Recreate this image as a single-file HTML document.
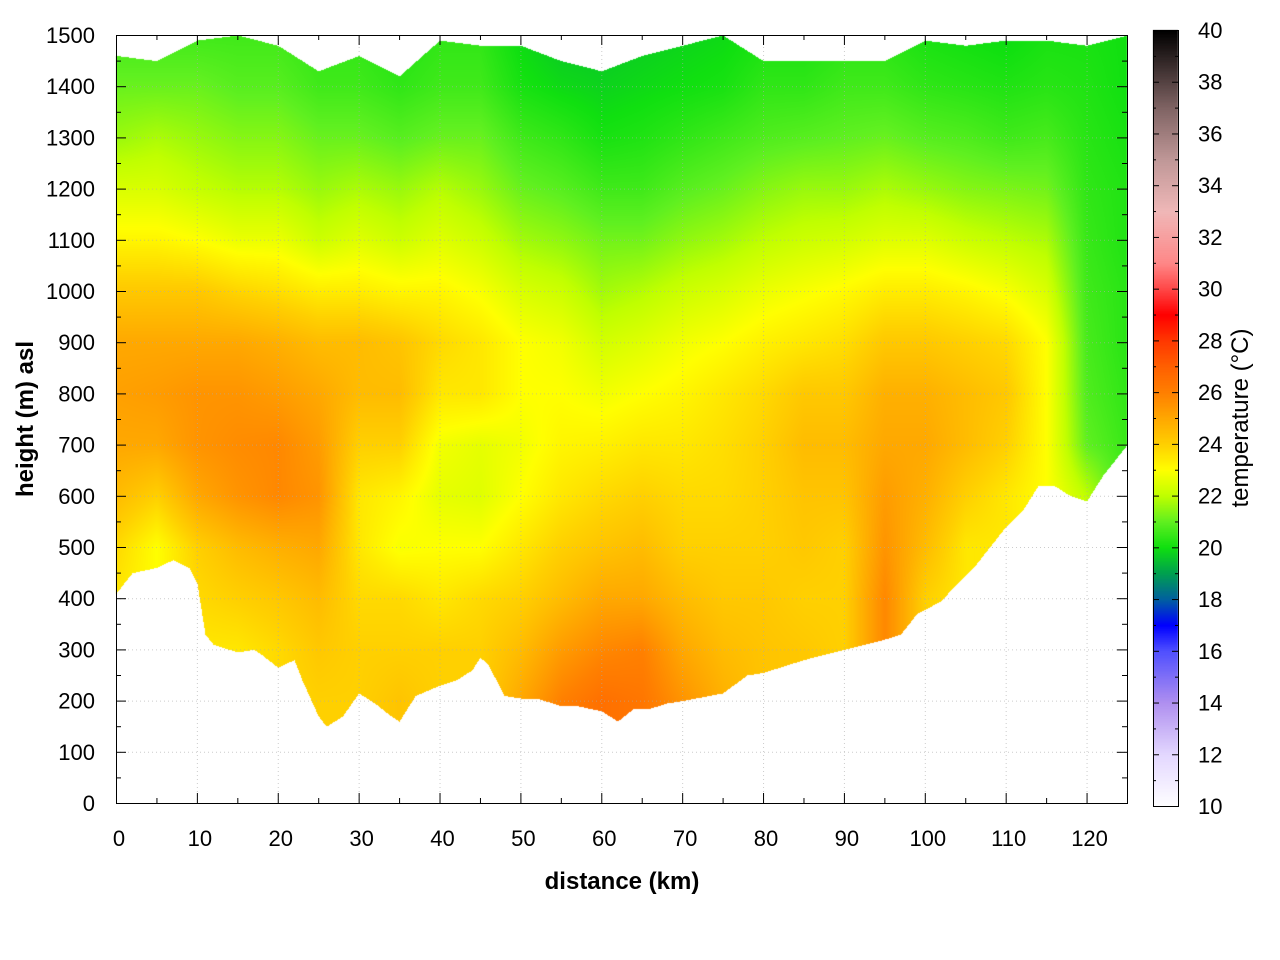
<!DOCTYPE html>
<html><head><meta charset="utf-8">
<style>
html,body{margin:0;padding:0;background:#fff;}
#wrap{position:relative;width:1280px;height:960px;font-family:"Liberation Sans",sans-serif;}
canvas,svg{position:absolute;left:0;top:0;}
</style></head>
<body>
<div id="wrap">
<canvas id="heat" width="1280" height="960"></canvas>
<svg id="ov" width="1280" height="960"></svg>
</div>
<script>
// ---- data ----
const distances = [0,5,10,15,20,25,30,35,40,45,50,55,60,65,70,75,80,85,90,95,100,105,110,115,120,125];
const heights = [0,100,200,300,400,500,600,700,800,900,1000,1100,1200,1300,1400,1500];
// temperature per distance column, at each height in `heights`
const temps = [
 [23.5,23.5,23.5,23.5,23.5,23.8,24.5,25,25.2,25,24.2,23.2,22.4,21.6,21.1,20.6],
 [23,23,23,23,23,23,24,25,25.3,25,24.2,23.2,22.4,21.8,21.1,20.6],
 [23.5,23.5,23.5,23.5,23.8,24,25,25.5,25.5,25,24.2,23,22.1,21.6,21.1,20.6],
 [23.5,23.5,23.5,23.5,24,24.5,25.5,25.7,25.5,25,23.9,22.7,21.9,21.4,20.9,20.6],
 [23.8,23.8,23.8,23.8,24.2,24.8,25.8,25.8,25.3,24.8,23.7,22.7,21.9,21.4,20.9,20.6],
 [24,24,24,24.2,24.5,25,25.5,25.3,25,24.5,23.4,22.2,21.6,21.1,20.6,20.4],
 [24,24,24,24,23.8,23.5,23.5,24,24.5,24.5,23.4,22.5,21.8,21.1,20.6,20.4],
 [24.3,24.3,24.3,24,23.8,22.9,23.2,24,24.5,24.3,23.2,22.2,21.6,20.9,20.4,20.2],
 [24,24,24,24,23.5,23,22.6,22.8,23.5,23.8,23.2,22.5,21.9,21.1,20.6,20.4],
 [24,24,24,24,23.8,23,22.5,22.6,23.5,23.5,22.9,22.2,21.6,21.1,20.6,20.4],
 [25,25,25,24.5,24,23.5,23,22.8,23,23,22.4,21.7,21.1,20.6,20.1,19.9],
 [26,26,26,25.3,24.5,24,23.5,23.2,23,22.8,22.2,21.5,20.9,20.4,19.9,19.6],
 [26.5,26.5,26.5,25.8,25,24.3,23.8,23.3,22.8,22.3,21.7,21.2,20.6,20.1,19.8,19.6],
 [26.3,26.3,26.3,26,25,24.5,24,23.5,23,22.5,21.9,21.2,20.6,20.2,19.9,19.7],
 [25.5,25.5,25.5,25,24.5,24,23.8,23.5,23.2,22.8,22.2,21.5,20.9,20.4,20,19.8],
 [24.8,24.8,24.8,24.5,24.2,24,23.8,23.7,23.5,23,22.4,21.7,21.1,20.6,20.1,19.9],
 [24.3,24.3,24.3,24.3,24.2,24,24,24,23.8,23.3,22.7,22,21.4,20.8,20.4,20.1],
 [24.2,24.2,24.2,24.2,24,24.2,24.3,24.5,24.2,23.5,22.9,22.2,21.6,20.9,20.4,20.1],
 [24,24,24,24,24,24,24.3,24.5,24.2,23.7,23.1,22.3,21.6,21,20.6,20.3],
 [25.8,25.8,25.8,25.8,25.8,25.5,25.3,25,24.8,24.2,23.4,22.5,21.8,21.1,20.6,20.3],
 [24,24,24,24,24,24.5,24.8,25,24.8,24.2,23.4,22.5,21.6,20.9,20.4,20.1],
 [23.5,23.5,23.5,23.5,23.5,23.5,24,24.5,24.5,24,23.2,22.2,21.4,20.8,20.3,20],
 [23.5,23.5,23.5,23.5,23.5,23.5,23.5,24,24.2,23.8,22.9,22,21.3,20.6,20.2,19.9],
 [23,23,23,23,23,23,23,23,23,23,22.4,21.8,21.2,20.7,20.3,20.1],
 [22,22,22,22,22,22,22,21,20.8,20.7,20.6,20.5,20.4,20.3,20.2,20.1],
 [20.5,20.5,20.5,20.5,20.5,20.5,20.5,20.5,20.4,20.3,20.3,20.2,20.2,20.1,20,20]
];
const topHeights = [1460,1450,1490,1500,1480,1430,1460,1420,1490,1480,1480,1450,1430,1460,1480,1500,1450,1450,1450,1450,1490,1480,1490,1490,1480,1500];
const terrainKm = [0,2,5,7,9,10,11,12,15,17,18,20,22,23,25,26,28,30,32,34,35,37,40,42,44,45,46,48,50,52,55,57,60,62,64,66,68,70,75,78,80,85,90,95,97,99,102,104,106,108,110,112,114,116,118,120,122,125];
const terrainH = [410,450,460,475,460,430,330,310,295,300,290,265,280,240,170,150,170,215,195,170,160,210,230,240,260,285,270,210,205,205,190,190,180,160,185,185,195,200,215,250,255,280,300,320,330,370,395,430,460,500,540,570,620,620,600,590,640,700];
const xTicks = [0,10,20,30,40,50,60,70,80,90,100,110,120];
const yTicks = [0,100,200,300,400,500,600,700,800,900,1000,1100,1200,1300,1400,1500];
const cbTicks = [10,12,14,16,18,20,22,24,26,28,30,32,34,36,38,40];
const cmapT = [10,12,14,16,17,18,19,20,21,22,23,24,25,26,27,28,29,30,31,33,35,37,40];
const cmapC = ["#ffffff","#e4d8ff","#b090f0","#5050ff","#0000ff","#0060a0","#00a050","#10e010","#60f020","#c0ff00","#ffff00","#ffd000","#ffa800","#ff8000","#ff6000","#ff3800","#ff0000","#ff4848","#ff8888","#f0b8b8","#c09898","#806464","#000000"];

// ---- axes ----
const PX0=116,PX1=1127,PY0=803,PY1=35,XMAX=125,YMAX=1500;
const sx=v=>PX0+(v/XMAX)*(PX1-PX0);
const sy=v=>PY0-(v/YMAX)*(PY0-PY1);
const CBX=1153,CBW=25,CBY0=806,CBY1=30;
const cy=t=>CBY0-(t-10)/30*(CBY0-CBY1);

function hex(c){return [parseInt(c.substr(1,2),16),parseInt(c.substr(3,2),16),parseInt(c.substr(5,2),16)];}
const cmapRGB=cmapC.map(hex);
function color(t){
  if(t<=cmapT[0])return cmapRGB[0];
  for(let i=1;i<cmapT.length;i++){if(t<=cmapT[i]){const f=(t-cmapT[i-1])/(cmapT[i]-cmapT[i-1]);const a=cmapRGB[i-1],b=cmapRGB[i];return [a[0]+(b[0]-a[0])*f,a[1]+(b[1]-a[1])*f,a[2]+(b[2]-a[2])*f];}}
  return cmapRGB[cmapRGB.length-1];
}
function interp1(xs,ys,x){
  if(x<=xs[0])return ys[0];
  for(let i=1;i<xs.length;i++)if(x<=xs[i]){const f=(x-xs[i-1])/(xs[i]-xs[i-1]);return ys[i-1]+(ys[i]-ys[i-1])*f;}
  return ys[ys.length-1];
}
function tempAt(d,h){
  let i=Math.min(distances.length-2,Math.max(0,Math.floor(d/5)));
  let fx=Math.min(1,Math.max(0,(d-distances[i])/(distances[i+1]-distances[i])));
  let j=Math.min(heights.length-2,Math.max(0,Math.floor(h/100)));
  let fy=Math.min(1,Math.max(0,(h-heights[j])/100));
  const a=temps[i][j],b=temps[i+1][j],c=temps[i][j+1],e=temps[i+1][j+1];
  return (a*(1-fx)+b*fx)*(1-fy)+(c*(1-fx)+e*fx)*fy;
}
// ---- heatmap ----
const cv=document.getElementById('heat'),ctx=cv.getContext('2d');
ctx.fillStyle='#fff';ctx.fillRect(0,0,1280,960);
const W=PX1-PX0,H=PY0-PY1;
const img=ctx.createImageData(W,H);
for(let px=0;px<W;px++){
  const d=px/W*XMAX;
  const bot=interp1(terrainKm,terrainH,d), top=interp1(distances,topHeights,d);
  for(let py=0;py<H;py++){
    const h=(H-py)/H*YMAX;
    const k=(py*W+px)*4;
    if(h<bot||h>top){img.data[k]=255;img.data[k+1]=255;img.data[k+2]=255;img.data[k+3]=255;continue;}
    const c=color(tempAt(d,h));
    img.data[k]=c[0];img.data[k+1]=c[1];img.data[k+2]=c[2];img.data[k+3]=255;
  }
}
ctx.putImageData(img,PX0,PY1);
// colorbar
for(let y=CBY1;y<CBY0;y++){const t=10+(CBY0-y)/(CBY0-CBY1)*30;const c=color(t);ctx.fillStyle=`rgb(${c[0]|0},${c[1]|0},${c[2]|0})`;ctx.fillRect(CBX,y,CBW,1);}

// ---- overlay ----
const NS='http://www.w3.org/2000/svg',svg=document.getElementById('ov');
function el(tag,attrs,parent){const e=document.createElementNS(NS,tag);for(const k in attrs)e.setAttribute(k,attrs[k]);(parent||svg).appendChild(e);return e;}
const grid=el('g',{stroke:'#aaa','stroke-width':1,'stroke-dasharray':'1,3',opacity:0.6});


const ticks=el('g',{stroke:'#000','stroke-width':1});


const labels=el('g',{'font-size':22,fill:'#000','font-family':'Liberation Sans, sans-serif'});


xTicks.forEach(v=>{const x=sx(v)+0.5;
  if(v>0&&v<XMAX)el('line',{x1:x,y1:PY1,x2:x,y2:PY0},grid);
  el('line',{x1:x,y1:PY0,x2:x,y2:PY0-10},ticks);el('line',{x1:x,y1:PY1,x2:x,y2:PY1+10},ticks);
  const m=sx(v+5)+0.5; if(v+5<XMAX){el('line',{x1:m,y1:PY0,x2:m,y2:PY0-5},ticks);el('line',{x1:m,y1:PY1,x2:m,y2:PY1+5},ticks);}
  const t=el('text',{x:sx(v)+3,y:846,'text-anchor':'middle'},labels);t.textContent=v;
  
  
});
yTicks.forEach(v=>{const y=sy(v)+0.5;
  if(v>0&&v<YMAX)el('line',{x1:PX0,y1:y,x2:PX1,y2:y},grid);
  el('line',{x1:PX0,y1:y,x2:PX0+10,y2:y},ticks);el('line',{x1:PX1,y1:y,x2:PX1-10,y2:y},ticks);
  if(v<YMAX){const m=sy(v+50)+0.5;el('line',{x1:PX0,y1:m,x2:PX0+5,y2:m},ticks);el('line',{x1:PX1,y1:m,x2:PX1-5,y2:m},ticks);}
  const t=el('text',{x:95,y:sy(v)+8,'text-anchor':'end'},labels);t.textContent=v;
  
  
});
const frame=el('rect',{x:PX0+0.5,y:PY1+0.5,width:PX1-PX0,height:PY0-PY1,fill:'none',stroke:'#000'});


const cbf=el('rect',{x:CBX+0.5,y:CBY1+0.5,width:CBW,height:CBY0-CBY1,fill:'none',stroke:'#000'});


for(let t=10;t<=40;t++){const y=cy(t)+0.5,len=(t%2===0)?6:3;
  el('line',{x1:CBX,y1:y,x2:CBX+len,y2:y},ticks);el('line',{x1:CBX+CBW,y1:y,x2:CBX+CBW-len,y2:y},ticks);}
cbTicks.forEach(v=>{const t=el('text',{x:1198,y:cy(v)+8},labels);t.textContent=v;
  
  });
const xt=el('text',{x:622,y:889,'text-anchor':'middle','font-size':24,'font-weight':'bold','font-family':'Liberation Sans, sans-serif'});
xt.textContent='distance (km)';


const yt=el('text',{x:0,y:0,'text-anchor':'middle','font-size':24,'font-weight':'bold','font-family':'Liberation Sans, sans-serif',transform:'translate(33,419) rotate(-90)'});
yt.textContent='height (m) asl';


const ct=el('text',{x:0,y:0,'text-anchor':'middle','font-size':24,'font-family':'Liberation Sans, sans-serif',transform:'translate(1248,418) rotate(-90)'});
ct.textContent='temperature (°C)';


</script>
</body></html>
